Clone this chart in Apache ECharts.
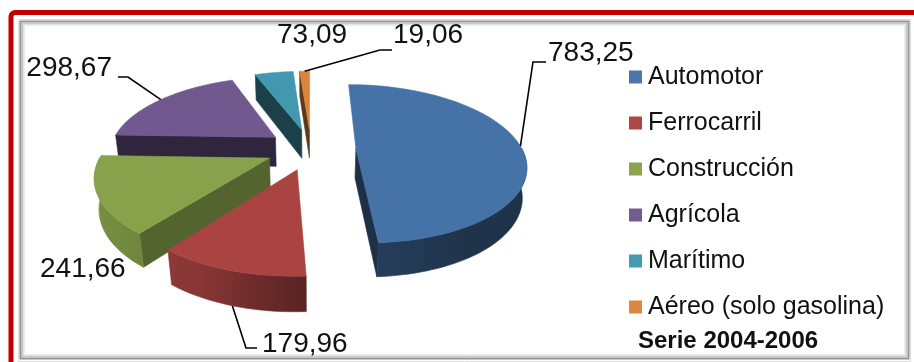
<!DOCTYPE html>
<html>
<head>
<meta charset="utf-8">
<script src="https://cdn.jsdelivr.net/npm/echarts@6/dist/echarts.min.js"></script>
<style>
  html, body { margin: 0; padding: 0; background: #ffffff; }
  #chart { width: 914px; height: 362px; }
</style>
</head>
<body>
<div id="chart"></div>
<script>
// Consumo por sector (serie 2004-2006)
const categories = ['Automotor', 'Ferrocarril', 'Construcción', 'Agrícola', 'Marítimo', 'Aéreo (solo gasolina)'];
const consumo = [783.25, 179.96, 241.66, 298.67, 73.09, 19.06];
const subtitle = 'Serie 2004-2006';

// Styling
const topColors = ['#4572A7', '#A94442', '#87A24A', '#71588F', '#4198AF', '#DB843D'];
const legendColors = ['#4A76AC', '#AD4744', '#8AA54C', '#755B93', '#449BB2', '#DD8640'];
const FONT = "'Liberation Sans', Arial, sans-serif";

// Value label placement (text anchor, optional leader elbow and end)
const labelLayout = [
  { x: 548, y: 53,  align: 'left',  elbow: [533, 62], end: [546, 62] },
  { x: 262, y: 344, align: 'left',  elbow: [246, 348], end: [257, 348] },
  { x: 40,  y: 269, align: 'left' },
  { x: 112, y: 68,  align: 'right', elbow: [128, 77], end: [118, 77] },
  { x: 277, y: 35,  align: 'left' },
  { x: 393, y: 35,  align: 'left',  elbow: [380, 50], end: [392, 50] }
];

// 3D view of the exploded pie
const view = { cx: 311, cy: 149, R: 166, H: 34, explode: 45, sinA: 0.46, cosA: 0.888, D: 760 };

const total = consumo.reduce((a, b) => a + b, 0);
const startAngles = [];
(function () {
  let acc = 0;
  consumo.forEach(v => { startAngles.push(acc / total * 360); acc += v; });
})();

const rad = d => d * Math.PI / 180;

function project(x, y, z) {
  const yc = y * view.cosA + z * view.sinA;
  const zc = -y * view.sinA + z * view.cosA;
  const w = 1 + zc / view.D;
  return [view.cx + x / w, view.cy - yc / w];
}
function rim(off, th, y) {
  return project(off[0] + view.R * Math.sin(rad(th)), y, off[1] + view.R * Math.cos(rad(th)));
}
function arcPts(off, t0, t1, y) {
  const n = Math.max(2, Math.ceil((t1 - t0) / 1.5));
  const pts = [];
  for (let k = 0; k <= n; k++) pts.push(rim(off, t0 + (t1 - t0) * k / n, y));
  return pts;
}
function shade(hex, f) {
  const n = parseInt(hex.slice(1), 16);
  const r = Math.round(((n >> 16) & 255) * f);
  const g = Math.round(((n >> 8) & 255) * f);
  const b = Math.round((n & 255) * f);
  return 'rgb(' + r + ',' + g + ',' + b + ')';
}
// brightness of the outer wall as it turns from right to left
const wallTable = [[90, 0.42], [150, 0.45], [180, 0.55], [205, 0.8], [240, 0.88], [270, 0.95]];
function wallFactor(th) {
  for (let k = 1; k < wallTable.length; k++) {
    if (th <= wallTable[k][0]) {
      const [t0, f0] = wallTable[k - 1], [t1, f1] = wallTable[k];
      return f0 + (f1 - f0) * (th - t0) / (t1 - t0);
    }
  }
  return wallTable[wallTable.length - 1][1];
}
const fmt = v => v.toFixed(2).replace('.', ',');

function sliceGeometry(i, value) {
  const a0 = startAngles[i];
  const a1 = a0 + value / total * 360;
  const mid = (a0 + a1) / 2;
  const off = [view.explode * Math.sin(rad(mid)), view.explode * Math.cos(rad(mid))];
  return { a0, a1, mid, off };
}

function renderSlice(i) {
  return function (params, api) {
    const value = api.value(0);
    const { a0, a1, mid, off } = sliceGeometry(i, value);
    const base = topColors[i];
    const H = view.H;
    const children = [];
    const apexTop = project(off[0], 0, off[1]);
    const apexBot = project(off[0], -H, off[1]);

    // radial side faces
    const faces = [];
    if (Math.sin(rad(a0)) < -1e-6) faces.push({ th: a0, nx: -Math.cos(rad(a0)) });
    if (Math.sin(rad(a1)) > 1e-6) faces.push({ th: a1, nx: Math.cos(rad(a1)) });
    faces.forEach(fc => {
      const c = shade(base, 0.42 + 0.25 * Math.max(0, fc.nx));
      children.push({
        type: 'polygon',
        shape: { points: [apexTop, rim(off, fc.th, 0), rim(off, fc.th, -H), apexBot] },
        style: { fill: c, stroke: c, lineWidth: 0.6 }
      });
    });

    // outer wall (front half only)
    const lo = Math.max(a0, 90), hi = Math.min(a1, 270);
    if (hi > lo) {
      const top = arcPts(off, lo, hi, 0);
      const bot = arcPts(off, lo, hi, -H).reverse();
      const xLo = rim(off, lo, 0)[0], xHi = rim(off, hi, 0)[0];
      const stops = [];
      const steps = Math.max(2, Math.ceil((hi - lo) / 5));
      for (let k = 0; k <= steps; k++) {
        const th = lo + (hi - lo) * k / steps;
        const x = rim(off, th, 0)[0];
        const o = Math.abs(xHi - xLo) < 1e-6 ? 0 : (x - xLo) / (xHi - xLo);
        stops.push({ offset: Math.min(1, Math.max(0, o)), color: shade(base, wallFactor(th)) });
      }
      const grad = { type: 'linear', x: xLo, y: 0, x2: xHi, y2: 0, global: true, colorStops: stops };
      children.push({
        type: 'polygon',
        shape: { points: top.concat(bot) },
        style: { fill: grad, stroke: grad, lineWidth: 0.6 }
      });
    }

    // top face
    children.push({
      type: 'polygon',
      shape: { points: [apexTop].concat(arcPts(off, a0, a1, 0)) },
      style: { fill: base, stroke: base, lineWidth: 0.6 }
    });

    // value label with optional leader line
    const lay = labelLayout[i];
    if (lay.elbow) {
      const front = Math.cos(rad(mid)) < 0;
      const start = rim(off, mid, front ? -H : 0);
      children.push({
        type: 'polyline',
        shape: { points: [start, lay.elbow, lay.end] },
        style: { stroke: '#000000', lineWidth: 1.6, fill: null }
      });
    }
    children.push({
      type: 'text',
      style: {
        text: fmt(value), x: lay.x, y: lay.y,
        fill: '#111111', fontSize: 28, fontFamily: FONT,
        align: lay.align, verticalAlign: 'middle'
      }
    });
    return { type: 'group', children };
  };
}

// back-to-front drawing order by depth of each slice's apex
const depth = consumo.map((v, i) => sliceGeometry(i, v).off[1]);
const order = depth.map((d, i) => i).sort((p, q) => depth[q] - depth[p]);
const zRank = [];
order.forEach((idx, r) => { zRank[idx] = 2 + r; });

const series = categories.map((name, i) => ({
  type: 'custom',
  name: name,
  coordinateSystem: 'none',
  z: zRank[i],
  silent: true,
  itemStyle: { color: legendColors[i] },
  data: [[consumo[i]]],
  renderItem: renderSlice(i)
}));

const chart = echarts.init(document.getElementById('chart'), null, { renderer: 'canvas' });
chart.setOption({
  backgroundColor: '#ffffff',
  animation: false,
  legend: {
    data: categories,
    orient: 'vertical',
    left: 624,
    top: 59,
    icon: 'rect',
    itemWidth: 13,
    itemHeight: 13,
    itemGap: 20,
    selectedMode: false,
    textStyle: { fontSize: 25, fontFamily: FONT, color: '#111111', lineHeight: 26, padding: [0, 0, 0, 1] }
  },
  graphic: [
    { type: 'rect', z: 0, shape: { x: 11, y: 12.5, width: 960, height: 420, r: 4 },
      style: { fill: null, stroke: '#C00000', lineWidth: 5 } },
    { type: 'rect', z: 0, shape: { x: 18.5, y: 19.5, width: 892, height: 342 },
      style: { fill: null, stroke: '#dcdcdc', lineWidth: 1 } },
    { type: 'rect', z: 0, shape: { x: 20.5, y: 21.5, width: 888, height: 337 },
      style: { fill: null, stroke: '#939393', lineWidth: 2 } },
    { type: 'rect', z: 0, shape: { x: 22.5, y: 23.5, width: 884, height: 333 },
      style: { fill: null, stroke: '#c8c8c8', lineWidth: 2 } },
    { type: 'rect', z: 0, shape: { x: 24.5, y: 25.5, width: 880, height: 329 },
      style: { fill: null, stroke: '#ececec', lineWidth: 1 } },
    { type: 'text', z: 10, left: 638, top: 329,
      style: { text: subtitle, fontSize: 24, fontWeight: 'bold', fontFamily: FONT, fill: '#111111' } }
  ],
  series: series
});
</script>
</body>
</html>
